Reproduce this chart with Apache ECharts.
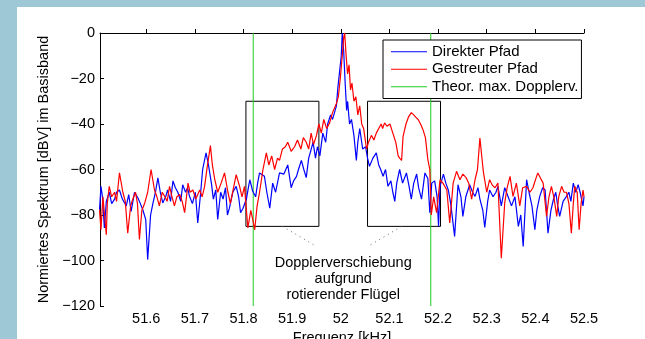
<!DOCTYPE html>
<html>
<head>
<meta charset="utf-8">
<script src="https://cdn.jsdelivr.net/npm/echarts@6/dist/echarts.min.js"></script>
<style>
html,body{margin:0;padding:0;background:#9ec8d6;}
#c{width:645px;height:339px;}
</style>
</head>
<body>
<div id="c"></div>
<script>
// ---- data ----
const blueFreq = [51.504,51.507,51.510,51.514,51.518,51.524,51.529,51.535,51.539,51.545,51.551,51.559,51.564,51.569,51.576,51.583,51.588,51.593,51.599,51.603,51.609,51.614,51.619,51.624,51.629,51.634,51.640,51.644,51.650,51.655,51.660,51.665,51.671,51.675,51.681,51.685,51.689,51.695,51.701,51.706,51.712,51.716,51.723,51.728,51.734,51.738,51.743,51.747,51.753,51.758,51.763,51.767,51.771,51.778,51.785,51.790,51.794,51.799,51.806,51.810,51.813,51.819,51.825,51.829,51.833,51.837,51.843,51.848,51.854,51.860,51.866,51.874,51.883,51.887,51.891,51.898,51.903,51.909,51.913,51.919,51.924,51.929,51.934,51.938,51.943,51.948,51.952,51.957,51.963,51.969,51.973,51.979,51.983,51.991,51.994,51.998,52.001,52.003,52.006,52.009,52.012,52.014,52.018,52.022,52.027,52.032,52.035,52.039,52.045,52.051,52.055,52.059,52.066,52.073,52.078,52.082,52.087,52.092,52.097,52.103,52.107,52.111,52.115,52.121,52.127,52.135,52.140,52.145,52.150,52.156,52.160,52.166,52.173,52.179,52.183,52.187,52.193,52.198,52.201,52.204,52.211,52.216,52.221,52.226,52.234,52.241,52.247,52.251,52.257,52.265,52.271,52.276,52.282,52.286,52.292,52.296,52.302,52.306,52.313,52.319,52.323,52.330,52.337,52.344,52.351,52.358,52.365,52.370,52.375,52.382,52.387,52.393,52.399,52.403,52.409,52.415,52.420,52.426,52.432,52.437,52.442,52.446,52.450,52.457,52.464,52.469,52.473,52.478,52.483,52.488,52.492,52.498,52.5];
const blueDb = [-77.7,-67.4,-72,-85.7,-74,-70,-75,-73,-70,-69,-73,-76,-71,-78.4,-70,-72.5,-75,-77.7,-82,-99.6,-80,-74.7,-70,-63.7,-70,-74.7,-72,-69,-74,-65,-68,-70,-74,-66.7,-70,-68,-71.8,-75,-70,-83.5,-70,-60,-52.7,-58,-66,-73,-69,-82,-70,-73,-68,-80,-77,-70,-67.4,-72,-79,-77,-73,-68,-64.5,-69.6,-72,-66,-61.5,-61,-63,-70,-77,-66,-70,-61.5,-62,-60,-58,-68,-65,-63,-60,-56,-60,-63.6,-55,-52,-48,-55,-50,-54,-44,-48,-40,-36,-38,-32,-24,-24,-10,0,-8,-22,-34,-30,-40,-38,-45,-56,-48,-42,-51,-50,-55,-58.6,-55,-52.7,-58,-60,-63,-60,-67.4,-65,-70,-74,-66,-60,-66,-61.5,-67,-73,-66,-62,-68,-73,-61.5,-64,-79,-66,-65,-72,-85,-67.4,-62,-66,-69,-75,-89.4,-66.7,-72,-80.6,-72,-66.7,-70,-71.8,-68,-73,-78,-85.5,-74,-69,-72,-70,-67.4,-76,-68,-72,-76,-72,-85,-80,-93.8,-64.5,-70,-76,-86.5,-78,-71.8,-68,-69,-88,-78,-73.3,-70,-76,-80.6,-74,-71.8,-70,-74,-66,-70,-66.7,-70,-76,-72];

const redFreq = [51.504,51.507,51.511,51.518,51.520,51.524,51.529,51.535,51.539,51.545,51.552,51.557,51.562,51.568,51.572,51.578,51.582,51.586,51.591,51.597,51.603,51.610,51.617,51.622,51.627,51.633,51.638,51.643,51.648,51.653,51.658,51.663,51.669,51.674,51.679,51.686,51.690,51.696,51.702,51.710,51.715,51.720,51.726,51.732,51.736,51.741,51.747,51.754,51.761,51.768,51.773,51.778,51.785,51.792,51.797,51.802,51.809,51.815,51.819,51.823,51.828,51.833,51.840,51.847,51.852,51.858,51.864,51.870,51.874,51.880,51.886,51.891,51.898,51.905,51.911,51.918,51.923,51.929,51.934,51.939,51.944,51.950,51.955,51.960,51.965,51.971,51.977,51.983,51.991,51.995,51.999,52.003,52.006,52.008,52.011,52.014,52.017,52.020,52.023,52.027,52.031,52.035,52.039,52.043,52.047,52.053,52.057,52.063,52.068,52.073,52.078,52.083,52.086,52.090,52.095,52.101,52.107,52.113,52.118,52.121,52.125,52.128,52.134,52.139,52.145,52.150,52.154,52.159,52.164,52.169,52.174,52.179,52.183,52.186,52.191,52.197,52.204,52.210,52.218,52.224,52.231,52.238,52.245,52.251,52.258,52.263,52.269,52.276,52.281,52.286,52.293,52.300,52.306,52.312,52.317,52.323,52.330,52.337,52.342,52.348,52.354,52.361,52.368,52.374,52.382,52.389,52.395,52.401,52.405,52.411,52.416,52.423,52.428,52.433,52.438,52.444,52.448,52.454,52.459,52.464,52.469,52.474,52.478,52.481,52.486,52.490,52.494,52.498,52.5];
const redDb = [-77.7,-86.5,-72,-88.7,-75,-67.4,-72,-70,-74,-61.5,-70,-74,-88,-76,-73.3,-70,-75,-90.8,-78,-74.7,-70,-60,-69,-72,-76,-70,-71.8,-74,-67.4,-72,-76,-72,-71,-74,-79,-66,-70,-69,-73,-69,-72,-67.4,-58,-49.5,-58,-64.5,-70,-66,-61.5,-70,-75,-69.6,-62.3,-67.4,-72,-67.4,-85.7,-78,-82,-86.5,-76,-70,-60,-52.7,-58,-54,-60,-55,-56,-51,-50,-48,-52,-50,-47,-51,-46,-48,-51,-44,-49,-45,-40,-44,-38,-42,-39.5,-35,-31,-28,-20,-10,-2,0,-10,-18,-14,-25,-22,-30,-28,-36,-32,-40,-42,-51,-48,-45,-47,-44,-42,-40,-42,-39.5,-41,-40,-44,-48,-54,-55,-56,-45.5,-40,-37,-35,-36,-37,-38,-40,-42.5,-46,-55.7,-60,-80,-72,-79,-64.5,-66,-69,-83.5,-66,-60.8,-64.5,-62,-63.7,-66,-73,-64.5,-60,-46.2,-60.8,-70,-64.5,-67,-68,-66,-99,-74.7,-68,-63,-71.8,-66,-76,-68,-67.4,-70,-68,-64,-61.5,-64,-66,-80.6,-72,-67.4,-72,-80.6,-72,-67.4,-70,-70,-75,-88,-75,-67.4,-70,-86.5,-75,-69,-72];

const xTicks = [51.6, 51.7, 51.8, 51.9, 52, 52.1, 52.2, 52.3, 52.4, 52.5];
const yRange = [-120, 0];
const dopplerLimits = [51.82, 52.185];
const boxLeft = [51.805, 51.955];
const boxRight = [52.055, 52.205];
const boxDb = [-85, -30];
const seriesNames = ['Direkter Pfad', 'Gestreuter Pfad', 'Theor. max. Dopplerv.'];
const annotationText = 'Dopplerverschiebung\naufgrund\nrotierender Flügel';
const annotationPos = [52.005, -108];
const leaderLines = [[[51.88, -85], [51.95, -93.8]], [[52.125, -85], [52.056, -93.8]]];

// ---- chart ----
const FONT = 'Liberation Sans, Arial, sans-serif';
const FS = 14.5;
const GREEN = '#22cc22';
const chart = echarts.init(document.getElementById('c'), null, {renderer: 'canvas'});
const pairs = (xs, ys) => xs.map((x, i) => [x, ys[i]]);
// vertical limit lines, separated by empty points so they don't connect
const greenData = [];
dopplerLimits.forEach(v => { greenData.push([v, yRange[0]], [v, yRange[1]], [v, '-']); });

chart.setOption({
  backgroundColor: '#9ec8d6',
  animation: false,
  textStyle: {fontFamily: FONT},
  graphic: [{
    type: 'rect', z: -10, silent: true,
    shape: {x: 17, y: 7, width: 645, height: 339},
    style: {fill: '#ffffff'}
  }],
  grid: {left: 100, right: 61, top: 33, bottom: 33, containLabel: false, outerBoundsMode: 'none'},
  legend: {
    orient: 'vertical',
    left: 383, top: 40,
    padding: [3, 3, 3, 8],
    itemGap: 0,
    itemWidth: 36, itemHeight: 1,
    icon: 'rect',
    borderColor: '#000', borderWidth: 1,
    backgroundColor: '#fff',
    textStyle: {fontFamily: FONT, fontSize: 15, color: '#000', lineHeight: 17.5},
    data: seriesNames
  },
  xAxis: {
    type: 'value', min: 51.505, max: 52.5,
    name: 'Frequenz [kHz]', nameLocation: 'middle', nameGap: 17,
    nameTextStyle: {fontFamily: FONT, fontSize: FS, color: '#000'},
    axisLine: {show: true, lineStyle: {color: '#000', width: 1}},
    axisTick: {show: true, inside: true, length: 4, customValues: xTicks, lineStyle: {color: '#000'}},
    axisLabel: {customValues: xTicks, fontFamily: FONT, fontSize: FS, color: '#000', margin: 5,
      formatter: v => String(v)},
    splitLine: {show: false}
  },
  yAxis: {
    type: 'value', min: yRange[0], max: yRange[1], interval: 20,
    name: 'Normiertes Spektrum [dBV] im Basisband', nameLocation: 'middle', nameGap: 42,
    nameTextStyle: {fontFamily: FONT, fontSize: FS, color: '#000'},
    axisLine: {show: true, lineStyle: {color: '#000', width: 1}},
    axisTick: {show: true, inside: true, length: 4, lineStyle: {color: '#000'}},
    axisLabel: {fontFamily: FONT, fontSize: FS, color: '#000', margin: 5,
      formatter: v => String(v).replace('-', '\u2212')},
    splitLine: {show: false}
  },
  series: [
    {
      name: seriesNames[2], type: 'line', symbol: 'none', color: GREEN,
      lineStyle: {width: 1, color: GREEN},
      connectNulls: false,
      data: greenData, z: 2
    },
    {
      name: seriesNames[0], type: 'line', symbol: 'none', color: '#0000ff',
      lineStyle: {width: 1.2, color: '#0000ff'},
      data: pairs(blueFreq, blueDb), z: 3,
      markArea: {
        silent: true,
        itemStyle: {color: 'rgba(0,0,0,0)', borderColor: '#000', borderWidth: 1},
        data: [
          [{coord: [boxLeft[0], boxDb[1]]}, {coord: [boxLeft[1], boxDb[0]]}],
          [{coord: [boxRight[0], boxDb[1]]}, {coord: [boxRight[1], boxDb[0]]}]
        ]
      },
      markLine: {
        silent: true, symbol: 'none',
        lineStyle: {color: '#666', width: 1, type: [1, 4]},
        label: {show: false},
        data: leaderLines.map(l => [{coord: l[0]}, {coord: l[1]}])
      },
      markPoint: {
        silent: true, symbol: 'rect', symbolSize: 0,
        label: {show: true, position: 'inside', formatter: annotationText,
          fontFamily: FONT, fontSize: FS, lineHeight: 16, color: '#000', align: 'center'},
        data: [{coord: annotationPos}]
      }
    },
    {
      name: seriesNames[1], type: 'line', symbol: 'none', color: '#ff0000',
      lineStyle: {width: 1.2, color: '#ff0000'},
      data: pairs(redFreq, redDb), z: 4
    }
  ]
});
</script>
</body>
</html>
